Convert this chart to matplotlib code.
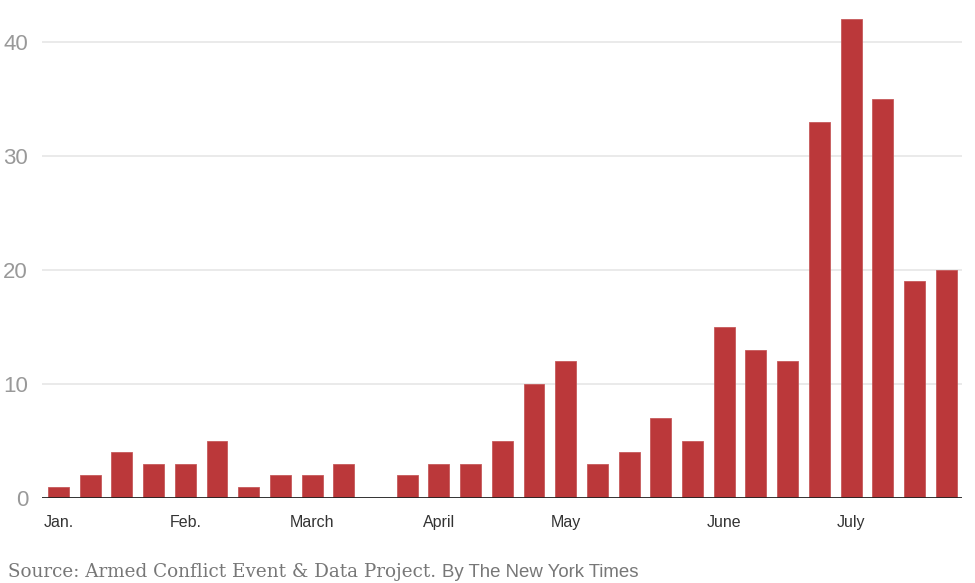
import matplotlib.pyplot as plt
import numpy as np

# Số sự kiện theo tuần
values = [1, 2, 4, 3, 3, 5, 1, 2, 2, 3, 0, 2, 3, 3, 5, 10, 12, 3, 4, 7, 5,
          15, 13, 12, 33, 42, 35, 19, 20]
month_pos = [0, 4, 8, 12, 16, 21, 25]
month_labels = ["Jan.", "Feb.", "March", "April", "May", "June", "July"]
y_ticks = [0, 10, 20, 30, 40]

fig = plt.figure(figsize=(9.75, 5.83), dpi=100)
ax = fig.add_axes([42 / 975, 85 / 583, 920 / 975, 490 / 583])

x = np.arange(len(values))
ax.bar(x, values, width=0.66, color="#bb383a", edgecolor="#c65a5b", linewidth=0.6, zorder=3)

ax.set_xlim(-0.52, 28.5)
ax.set_ylim(0, 43)
ax.set_yticks(y_ticks)
ax.set_yticklabels([str(v) for v in y_ticks], fontsize=16, color="#999999",
                   family="Liberation Sans")
ax.grid(axis="y", color="#e6e6e6", linewidth=1.2, zorder=0)
ax.axhline(0, color="#222222", linewidth=2, zorder=4)

ax.set_xticks(month_pos)
ax.set_xticklabels(month_labels, fontsize=11.5, color="#333333", family="Liberation Sans")
ax.tick_params(axis="both", length=0)
ax.tick_params(axis="x", pad=12)
ax.tick_params(axis="y", pad=10)

for s in ax.spines.values():
    s.set_visible(False)

t1 = fig.text(8 / 975, 6 / 583, "Source: Armed Conflict Event & Data Project.",
              fontsize=13.2, color="#777777", family="DejaVu Serif")
ax.annotate("By The New York Times", xy=(1, 0), xycoords=t1, xytext=(4, 0),
            textcoords="offset points", fontsize=13.4, color="#777777",
            family="Liberation Sans", va="bottom", annotation_clip=False)

fig.savefig("out.png", dpi=100)
